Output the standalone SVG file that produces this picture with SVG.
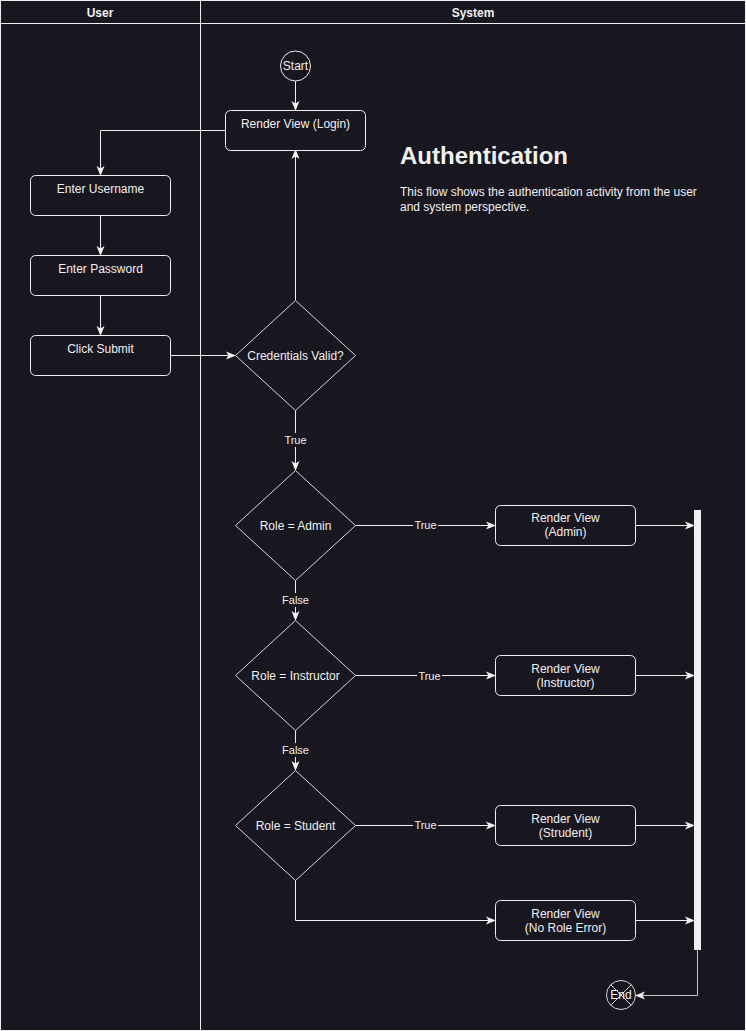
<svg xmlns="http://www.w3.org/2000/svg" width="746" height="1031" viewBox="0 0 746 1031">
<defs>
<marker id="arr" viewBox="0 0 10 10" refX="9" refY="5" markerWidth="10" markerHeight="10" markerUnits="userSpaceOnUse" orient="auto">
<path d="M0,1 L10,5 L0,9 L2.5,5 Z" fill="#f0f0f0"/>
</marker>
</defs>
<style>
text{font-family:"Liberation Sans",Arial,sans-serif;fill:#f0f0f0;font-size:12px}
.c{text-anchor:middle}
.b{font-weight:bold}
.box{fill:#18161f;stroke:#f0f0f0;stroke-width:1}
.dia{fill:#18161f;stroke:#d8d8d8;stroke-width:1}
.ln{fill:none;stroke:#f0f0f0;stroke-width:1}
.lbl{font-size:11px}
.lblbg{fill:#18161f}
</style>
<rect x="0" y="0" width="746" height="1031" fill="#18161f"/>
<g id="pool">
<rect x="0.5" y="0.5" width="745" height="1030" fill="none" stroke="#f0f0f0"/>
<line x1="0.5" y1="23.5" x2="745.5" y2="23.5" stroke="#f0f0f0"/>
<line x1="200.5" y1="0.5" x2="200.5" y2="1030.5" stroke="#f0f0f0"/>
<text class="c b" x="100" y="17">User</text>
<text class="c b" x="473" y="17">System</text>
</g>
<g id="title">
<text x="400" y="164" style="font-size:24px;font-weight:bold">Authentication</text>
<text x="400" y="196">This flow shows the authentication activity from the user</text>
<text x="400" y="211">and system perspective.</text>
</g>
<g id="connectors">
<path class="ln" d="M295.5,81 V110" marker-end="url(#arr)"/>
<path class="ln" d="M225,130.5 H100.5 V175" marker-end="url(#arr)"/>
<path class="ln" d="M100.5,215 V255" marker-end="url(#arr)"/>
<path class="ln" d="M100.5,295 V335" marker-end="url(#arr)"/>
<path class="ln" d="M170,355.5 H235" marker-end="url(#arr)"/>
<path class="ln" d="M295.5,300 V150" marker-end="url(#arr)"/>
<path class="ln" d="M295.5,410 V470" marker-end="url(#arr)"/>
<path class="ln" d="M295.5,580 V620" marker-end="url(#arr)"/>
<path class="ln" d="M295.5,730 V770" marker-end="url(#arr)"/>
<path class="ln" d="M355,525.5 H495" marker-end="url(#arr)"/>
<path class="ln" d="M355,675.5 H495" marker-end="url(#arr)"/>
<path class="ln" d="M355,825.5 H495" marker-end="url(#arr)"/>
<path class="ln" d="M295.5,880 V920.5 H495" marker-end="url(#arr)"/>
<path class="ln" d="M635,525.5 H694" marker-end="url(#arr)"/>
<path class="ln" d="M635,675.5 H694" marker-end="url(#arr)"/>
<path class="ln" d="M635,825.5 H694" marker-end="url(#arr)"/>
<path class="ln" d="M635,920.5 H694" marker-end="url(#arr)"/>
<path d="M697.5,950 V995.5 H636" fill="none" stroke="#c8c8c8" marker-end="url(#arr)"/>
<rect class="lblbg" x="283" y="433" width="25" height="14"/>
<text class="c lbl" x="295.5" y="444">True</text>
<rect class="lblbg" x="281" y="593" width="29" height="14"/>
<text class="c lbl" x="295.5" y="604">False</text>
<rect class="lblbg" x="281" y="743" width="29" height="14"/>
<text class="c lbl" x="295.5" y="754">False</text>
<rect class="lblbg" x="413" y="518" width="25" height="14"/>
<text class="c lbl" x="425.5" y="529">True</text>
<rect class="lblbg" x="417" y="669" width="25" height="14"/>
<text class="c lbl" x="429.5" y="680">True</text>
<rect class="lblbg" x="413" y="818" width="25" height="14"/>
<text class="c lbl" x="425.5" y="829">True</text>
</g>
<g id="start">
<circle cx="295.5" cy="66" r="15" fill="#18161f" stroke="#f0f0f0"/>
<text class="c" x="295.5" y="70">Start</text>
</g>
<g id="login">
<rect class="box" x="225.5" y="110.5" width="140" height="40" rx="5"/>
<text class="c" x="295.5" y="128">Render View (Login)</text>
</g>
<g id="username">
<rect class="box" x="30.5" y="175.5" width="140" height="40" rx="5"/>
<text class="c" x="100.5" y="193">Enter Username</text>
</g>
<g id="password">
<rect class="box" x="30.5" y="255.5" width="140" height="40" rx="5"/>
<text class="c" x="100.5" y="273">Enter Password</text>
</g>
<g id="submit">
<rect class="box" x="30.5" y="335.5" width="140" height="40" rx="5"/>
<text class="c" x="100.5" y="353">Click Submit</text>
</g>
<g id="valid">
<polygon class="dia" points="295.5,300.5 355.5,355.5 295.5,410.5 235.5,355.5"/>
<text class="c" x="295.5" y="360">Credentials Valid?</text>
</g>
<g id="admin">
<polygon class="dia" points="295.5,470.5 355.5,525.5 295.5,580.5 235.5,525.5"/>
<text class="c" x="295.5" y="530">Role = Admin</text>
</g>
<g id="instructor">
<polygon class="dia" points="295.5,620.5 355.5,675.5 295.5,730.5 235.5,675.5"/>
<text class="c" x="295.5" y="680">Role = Instructor</text>
</g>
<g id="student">
<polygon class="dia" points="295.5,770.5 355.5,825.5 295.5,880.5 235.5,825.5"/>
<text class="c" x="295.5" y="830">Role = Student</text>
</g>
<g id="viewAdmin">
<rect class="box" x="495.5" y="505.5" width="140" height="40" rx="5"/>
<text class="c" x="565.5" y="522">Render View</text>
<text class="c" x="565.5" y="536">(Admin)</text>
</g>
<g id="viewInstructor">
<rect class="box" x="495.5" y="655.5" width="140" height="40" rx="5"/>
<text class="c" x="565.5" y="673">Render View</text>
<text class="c" x="565.5" y="687">(Instructor)</text>
</g>
<g id="viewStudent">
<rect class="box" x="495.5" y="805.5" width="140" height="40" rx="5"/>
<text class="c" x="565.5" y="823">Render View</text>
<text class="c" x="565.5" y="837">(Strudent)</text>
</g>
<g id="viewError">
<rect class="box" x="495.5" y="900.5" width="140" height="40" rx="5"/>
<text class="c" x="565.5" y="918">Render View</text>
<text class="c" x="565.5" y="932">(No Role Error)</text>
</g>
<g id="join">
<rect x="694" y="510" width="7" height="440" fill="#f0f0f0"/>
</g>
<g id="end">
<circle cx="621" cy="995" r="14.5" fill="#18161f" stroke="#d8d8d8"/>
<path d="M610.7,984.7 L631.3,1005.3 M631.3,984.7 L610.7,1005.3" stroke="#d8d8d8" fill="none"/>
<text class="c" x="621" y="999">End</text>
</g>
</svg>
